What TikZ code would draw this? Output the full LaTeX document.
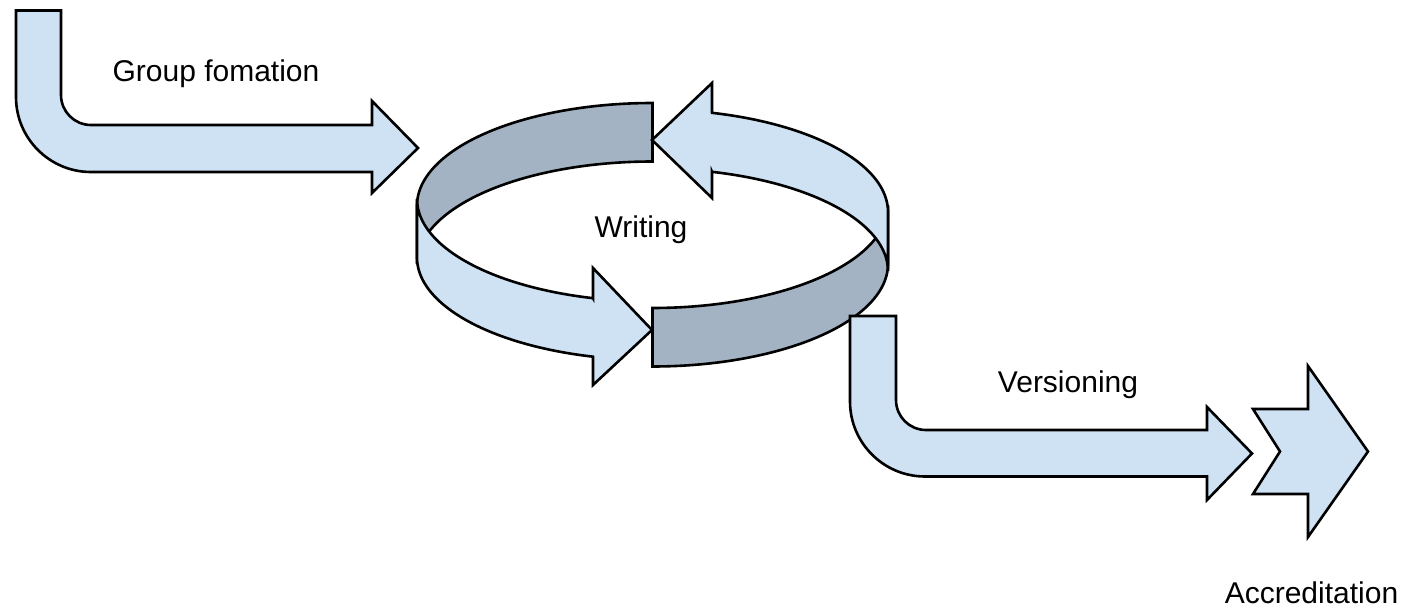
\documentclass[tikz,border=0pt]{standalone}
\usepackage{fontspec}
\setmainfont{Liberation Sans}
\definecolor{lightband}{HTML}{CFE2F3}
\definecolor{darkband}{HTML}{A3B3C3}
\begin{document}
\begin{tikzpicture}[x=1pt,y=-1pt,
  shapeline/.style={draw=black,line width=2.6pt,line join=miter},
  lightpart/.style={shapeline,fill=lightband},
  darkpart/.style={shapeline,fill=darkband},
  label/.style={inner sep=0pt,font=\fontsize{30}{36}\selectfont,anchor=base}]
\useasboundingbox (0,0) rectangle (1405,607);
% ring: dark back-left strip
\filldraw[darkpart] plot[domain=270:180,samples=60,smooth] ({652.5+235.5*cos(\x)},{205.5+102.5*sin(\x)})
  -- plot[domain=180:270,samples=60,smooth] ({652.5+235.5*cos(\x)},{264+102.5*sin(\x)}) -- cycle;
% ring: dark front-right strip
\filldraw[darkpart] plot[domain=90:0,samples=60,smooth] ({652.5+235.5*cos(\x)},{205.5+102.5*sin(\x)})
  -- plot[domain=0:90,samples=60,smooth] ({652.5+235.5*cos(\x)},{264+102.5*sin(\x)}) -- cycle;
% ring: light back-right arrow (pointing left)
\filldraw[lightpart] (712,112.8) -- (712,83) -- (652,140) -- (712,198) -- (712,171.8)
  -- plot[domain=284.64:360,samples=60,smooth] ({652.5+235.5*cos(\x)},{271+102.5*sin(\x)})
  -- plot[domain=360:284.64,samples=60,smooth] ({652.5+235.5*cos(\x)},{212+102.5*sin(\x)}) -- cycle;
% ring: light front-left arrow (pointing right)
\filldraw[lightpart] (593,298.2) -- (593,268) -- (652,330) -- (593,385) -- (593,356.7)
  -- plot[domain=104.64:180,samples=60,smooth] ({652.5+235.5*cos(\x)},{257.5+102.5*sin(\x)})
  -- plot[domain=180:104.64,samples=60,smooth] ({652.5+235.5*cos(\x)},{199+102.5*sin(\x)}) -- cycle;
% group formation bent arrow
\filldraw[lightpart] (16,10.5) -- (61,10.5) -- (61,95) .. controls (61,111.57) and (74.43,125) .. (91,125)
  -- (372,125) -- (372,101) -- (418,148) -- (372,193) -- (372,172) -- (91,172)
  .. controls (49.58,172) and (16,138.42) .. (16,97) -- cycle;
% versioning bent arrow
\filldraw[lightpart] (850,316) -- (896,316) -- (896,400) .. controls (896,416.57) and (909.43,430) .. (926,430)
  -- (1207,430) -- (1207,407) -- (1252,453.5) -- (1207,500) -- (1207,476.5) -- (925,476.5)
  .. controls (883.58,476.5) and (850,442.92) .. (850,401.5) -- cycle;
% accreditation chevron
\filldraw[lightpart] (1253,409) -- (1308,409) -- (1308,366) -- (1368,451.5) -- (1308,537) -- (1308,494)
  -- (1253,494) -- (1280,451.5) -- cycle;
% labels
\node[label] (tgroup) at (216,81.5) {Group fomation};
\node[label] (twriting) at (641,237) {Writing};
\node[label] (tversion) at (1068,392) {Versioning};
\node[label] (taccred) at (1311.5,603) {Accreditation};
\end{tikzpicture}
\end{document}
